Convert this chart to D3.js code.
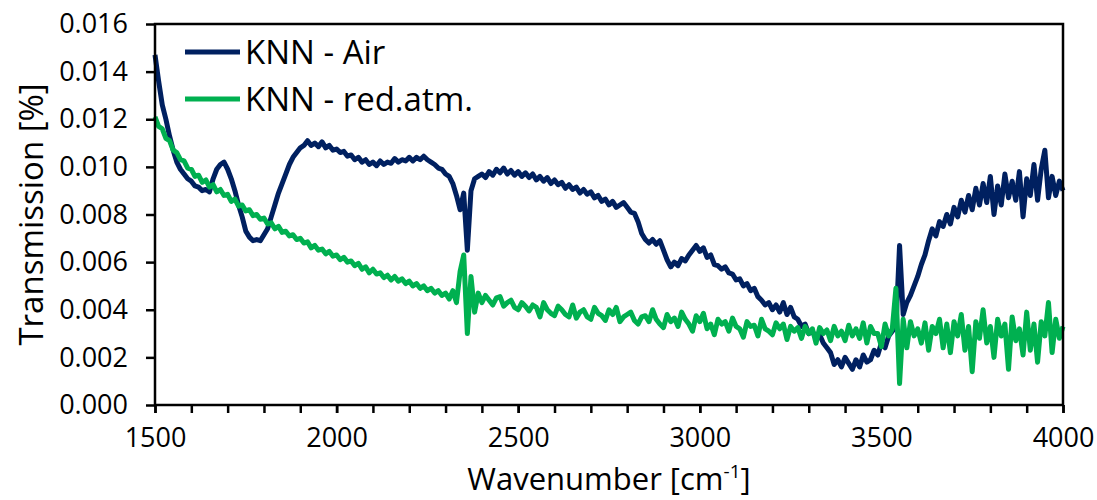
<!DOCTYPE html>
<html>
<head>
<meta charset="utf-8">
<script src="https://cdn.jsdelivr.net/npm/d3@7"></script>
<style>
  body { margin: 0; background: #fff; }
  svg text { font-family: "Open Sans", sans-serif; fill: #000; }
</style>
</head>
<body>
<div id="chart"></div>
<script>
// wavenumber grid, 1500..4000 step 10
var wavenumbers = d3.range(1500, 4001, 10);

// KNN - Air (transmission)
var airValues = [
  0.0147, 0.0136, 0.0126, 0.0120, 0.0113, 0.0107, 0.0102, 0.0099, 0.0097, 0.0095,
  0.0094, 0.0092, 0.00915, 0.0090, 0.00905, 0.00895, 0.0095, 0.0099, 0.0101, 0.0102,
  0.0099, 0.0095, 0.0090, 0.0084, 0.0079, 0.0073, 0.00705, 0.0069, 0.00695, 0.0069,
  0.00715, 0.0074, 0.0079, 0.0084, 0.0089, 0.0093, 0.0097, 0.0101, 0.0104, 0.0106,
  0.0108, 0.0109, 0.0111, 0.0109, 0.0110, 0.01085, 0.01105, 0.0108, 0.0109, 0.0107,
  0.01075, 0.0106, 0.01065, 0.01045, 0.0105, 0.0103, 0.0104, 0.0102, 0.0103, 0.0101,
  0.0102, 0.01005, 0.01025, 0.0101, 0.0102, 0.01015, 0.01035, 0.0102, 0.0103, 0.01025,
  0.0104, 0.01025, 0.0104, 0.0103, 0.01045, 0.0103, 0.0102, 0.0101, 0.00995, 0.0099,
  0.0097, 0.0096, 0.0093, 0.0088, 0.0082, 0.0089, 0.0065, 0.0090, 0.0095, 0.0096,
  0.0097, 0.00955, 0.0098, 0.00965, 0.0099, 0.00975, 0.00995, 0.0097, 0.00985, 0.00965,
  0.0098, 0.0096, 0.00975, 0.00955, 0.0097, 0.00945, 0.0096, 0.0094, 0.00955, 0.0093,
  0.00945, 0.00925, 0.00935, 0.0091, 0.00925, 0.00905, 0.00915, 0.0089, 0.00905, 0.00885,
  0.00895, 0.0087, 0.0088, 0.00855, 0.00865, 0.0084, 0.00855, 0.0083, 0.0084, 0.0085,
  0.0083, 0.0081, 0.00805, 0.0077, 0.0072, 0.00695, 0.0068, 0.00695, 0.00675, 0.0069,
  0.0065, 0.0061, 0.0058, 0.0060, 0.00585, 0.00615, 0.00605, 0.0063, 0.0065, 0.0067,
  0.00645, 0.0066, 0.0062, 0.0063, 0.0059, 0.00585, 0.0057, 0.0058, 0.00555, 0.0055,
  0.00525, 0.0053, 0.0050, 0.0051, 0.0048, 0.0049, 0.00455, 0.0044, 0.0042, 0.0043,
  0.0040, 0.0042, 0.0039, 0.0043, 0.0038, 0.0041, 0.0037, 0.0036, 0.0033, 0.0034,
  0.0030, 0.0031, 0.0028, 0.00295, 0.0026, 0.0024, 0.0022, 0.0017, 0.0019, 0.0016,
  0.0020, 0.00175, 0.0015, 0.0019, 0.0016, 0.0021, 0.0018, 0.0019, 0.0023, 0.0021,
  0.0026, 0.0024, 0.0029, 0.0031, 0.0033, 0.0067, 0.0038, 0.0043, 0.0046, 0.0050,
  0.0054, 0.0059, 0.0063, 0.0069, 0.0074, 0.0071, 0.0077, 0.0075, 0.0080, 0.0076,
  0.0083, 0.0079, 0.0086, 0.0081, 0.0088, 0.0082, 0.0091, 0.0084, 0.0093, 0.0085,
  0.0096, 0.0080, 0.0092, 0.0084, 0.0097, 0.0087, 0.0094, 0.0086, 0.0098, 0.0079,
  0.0095, 0.0088, 0.0101, 0.0086, 0.0099, 0.0107, 0.0087, 0.0096, 0.0088, 0.0094,
  0.0090
];

// KNN - red.atm.
var redAtmValues = [
  0.0121, 0.0117, 0.0116, 0.0112, 0.0111, 0.0107, 0.0106, 0.0103, 0.01025, 0.00995,
  0.0099, 0.0096, 0.00965, 0.00935, 0.00945, 0.00915, 0.00925, 0.00895, 0.00905, 0.0088,
  0.00885, 0.00855, 0.00865, 0.00835, 0.0084, 0.00815, 0.0082, 0.00795, 0.0080, 0.0078,
  0.00785, 0.0076, 0.00765, 0.0074, 0.0075, 0.00725, 0.0073, 0.0071, 0.00715, 0.00695,
  0.0070, 0.0068, 0.00685, 0.0066, 0.0067, 0.0065, 0.00655, 0.00635, 0.00645, 0.00625,
  0.0063, 0.0061, 0.0062, 0.0060, 0.00605, 0.00585, 0.00595, 0.0057, 0.0058, 0.00555,
  0.0057, 0.0055, 0.00555, 0.00535, 0.00545, 0.00525, 0.0054, 0.0052, 0.0053, 0.0051,
  0.0052, 0.0050, 0.0051, 0.0049, 0.0050, 0.0048, 0.0049, 0.0047, 0.0048, 0.0046,
  0.0047, 0.00445, 0.0048, 0.0043, 0.0056, 0.0063, 0.0030, 0.0054, 0.0039, 0.0047,
  0.0043, 0.0046, 0.0044, 0.0042, 0.0045, 0.00455, 0.00415, 0.0043, 0.0044, 0.0041,
  0.0040, 0.0043, 0.00415, 0.00395, 0.0042, 0.0041, 0.0037, 0.0043, 0.0040, 0.00385,
  0.00375, 0.00415, 0.0040, 0.0038, 0.0037, 0.0042, 0.00365, 0.0039, 0.0040, 0.0037,
  0.0036, 0.0041, 0.00385, 0.00375, 0.00355, 0.0040, 0.0038, 0.0041, 0.0035, 0.0037,
  0.0038, 0.0039, 0.00355, 0.0034, 0.0037, 0.00375, 0.0035, 0.0040, 0.0036, 0.0034,
  0.00325, 0.0038, 0.0035, 0.00365, 0.0033, 0.0039, 0.0036, 0.0034, 0.0031, 0.00375,
  0.0035, 0.00385, 0.0032, 0.0034, 0.00295, 0.0036, 0.0034, 0.0035, 0.0031, 0.00365,
  0.0033, 0.0032, 0.00285, 0.0035, 0.0033, 0.00335, 0.0029, 0.0036, 0.0032, 0.0031,
  0.00295, 0.00345, 0.0032, 0.0034, 0.00275, 0.0033, 0.0031, 0.00325, 0.0028, 0.0033,
  0.0030, 0.0032, 0.0026, 0.00325, 0.0030, 0.00315, 0.0027, 0.0033, 0.0029, 0.0031,
  0.0027, 0.00335, 0.0029, 0.0032, 0.0028, 0.00345, 0.0026, 0.0033, 0.0030, 0.0030,
  0.00245, 0.0034, 0.0029, 0.0032, 0.0049, 0.0009, 0.0036, 0.0024, 0.0035, 0.0029,
  0.0032, 0.0026, 0.00345, 0.0023, 0.0033, 0.0030, 0.0036, 0.0024, 0.0034, 0.0022,
  0.0035, 0.0029, 0.0038, 0.0023, 0.0033, 0.0014, 0.0035, 0.0028, 0.0040, 0.0026,
  0.0033, 0.0020, 0.0036, 0.0029, 0.0034, 0.0015, 0.0037, 0.0027, 0.0032, 0.0021,
  0.0039, 0.0023, 0.0034, 0.0018, 0.0035, 0.0029, 0.0043, 0.0022, 0.0036, 0.0028,
  0.0033
];

var yTicks = [0, 0.002, 0.004, 0.006, 0.008, 0.010, 0.012, 0.014, 0.016];
var xMajorTicks = [1500, 2000, 2500, 3000, 3500, 4000];
var xMinorTicks = d3.range(1500, 4001, 100);

var seriesNames = ["KNN - Air", "KNN - red.atm."];
var seriesColors = ["#002060", "#00B050"];

var margin = { top: 24, right: 34, bottom: 95, left: 155 },
  width = 1097 - margin.left - margin.right,
  height = 500 - margin.top - margin.bottom;

var svg = d3.select("#chart")
  .append("svg")
  .attr("width", 1097)
  .attr("height", 500)
  .append("g")
  .attr("transform", "translate(" + margin.left + "," + margin.top + ")");

var x = d3.scaleLinear().domain([1500, 4000]).range([0, width]);
var y = d3.scaleLinear().domain([0, 0.016]).range([height, 0]);

// lines
var line = d3.line()
  .x(d => x(d[0]))
  .y(d => y(d[1]));

[airValues, redAtmValues].forEach(function (vals, i) {
  svg.append("path")
    .datum(wavenumbers.map((w, j) => [w, vals[j]]))
    .attr("fill", "none")
    .attr("stroke", seriesColors[i])
    .attr("stroke-width", 5)
    .attr("stroke-linejoin", "round")
    .attr("d", line);
});

// frame
svg.append("rect")
  .attr("width", width)
  .attr("height", height)
  .attr("fill", "none")
  .attr("stroke", "#000")
  .attr("stroke-width", 2.5);

// Y axis
var yAxis = svg.append("g")
  .call(d3.axisLeft(y).tickValues(yTicks).tickFormat(d3.format(".3f")).tickSizeInner(9).tickSizeOuter(0).tickPadding(18));
yAxis.select(".domain").remove();
yAxis.selectAll("line").attr("stroke-width", 2.5);
yAxis.selectAll("text").style("font-size", "27px");

// X axis: minor ticks
var xMinor = svg.append("g")
  .attr("transform", "translate(0," + height + ")")
  .call(d3.axisBottom(x).tickValues(xMinorTicks).tickFormat("").tickSizeInner(8).tickSizeOuter(0));
xMinor.select(".domain").remove();
xMinor.selectAll("line").attr("stroke-width", 2.5);

var xAxis = svg.append("g")
  .attr("transform", "translate(0," + height + ")")
  .call(d3.axisBottom(x).tickValues(xMajorTicks).tickFormat(d3.format("d")).tickSizeInner(8).tickSizeOuter(0).tickPadding(15));
xAxis.select(".domain").remove();
xAxis.selectAll("line").attr("stroke-width", 2.5);
xAxis.selectAll("text").style("font-size", "27px");

// axis titles
svg.append("text")
  .attr("text-anchor", "middle")
  .attr("x", width / 2)
  .attr("y", height + 85)
  .style("font-size", "31px")
  .html('Wavenumber [cm<tspan dy="-12" style="font-size:19px">-1</tspan><tspan dy="12">]</tspan>');

svg.append("text")
  .attr("text-anchor", "middle")
  .attr("transform", "rotate(-90)")
  .attr("x", -height / 2)
  .attr("y", -112)
  .style("font-size", "33px")
  .text("Transmission [%]");

// legend
var legend = svg.selectAll(".legendItem")
  .data(seriesNames)
  .enter().append("g")
  .attr("transform", (d, i) => "translate(30," + (28 + 47 * i) + ")");

legend.append("line")
  .attr("x1", 0).attr("x2", 55)
  .attr("stroke", (d, i) => seriesColors[i])
  .attr("stroke-width", 5);

legend.append("text")
  .attr("x", 60)
  .attr("dy", "0.36em")
  .style("font-size", "33px")
  .text(d => d);
</script>
</body>
</html>
